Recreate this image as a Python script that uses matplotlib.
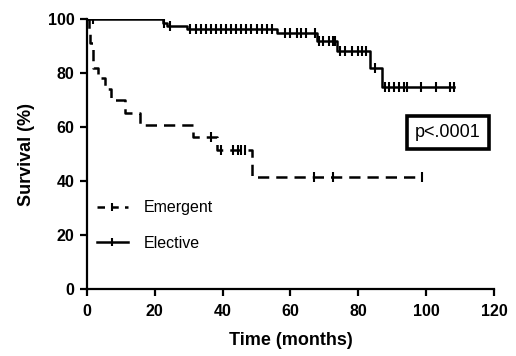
import matplotlib
matplotlib.use("Agg")
import matplotlib.pyplot as plt
from matplotlib.lines import Line2D
import numpy as np

plt.rcParams["font.family"] = ["Liberation Sans", "DejaVu Sans"]

# Kaplan-Meier steps (months, % surviving)
emerg_t = [0, 0.5, 1.0, 1.7, 3.2, 5.3, 7.2, 11.2, 15.7, 31.3, 38.4, 48.8]
emerg_s = [100, 95.5, 91, 82, 78, 74, 70, 65.2, 60.8, 56.3, 51.5, 41.5]
emerg_end = 98.8
emerg_cens = [36.6, 39.5, 43, 44.5, 45.5, 46.5, 67, 72.6, 98.8]

elect_t = [0, 22.3, 23.6, 29.5, 56.0, 67.8, 73.7, 83.4, 87.0]
elect_s = [100, 98.5, 97.4, 96.3, 94.7, 92.0, 88.1, 82.0, 75.0]
elect_end = 108.3
elect_cens = [1.7, 22.8, 24.5, 30.5, 32, 33.5, 35, 36.5, 38, 39.5, 41, 42.5,
              44, 45.5, 47, 48.5, 50, 51.5, 53, 54.5, 58.5, 60, 62, 63, 64.5,
              67.3, 68.5, 69.5, 71.5, 72.5, 73.2, 74.5, 76, 78, 80, 81, 82.3,
              85, 88, 89, 90.5, 92, 93.5, 94.3, 98.4, 103, 107, 108.3]

p_text = "p<.0001"


def surv_at(times, surv, when):
    idx = np.searchsorted(times, when, side="right") - 1
    return np.asarray(surv)[idx]


fig = plt.figure(figsize=(5.16, 3.56), dpi=100)
ax = fig.add_axes([0.1686, 0.1882, 0.7887, 0.7584])

lw = 1.8
for t, s, end, cens, ls in [
    (emerg_t, emerg_s, emerg_end, emerg_cens, (0, (4.5, 2.8))),
    (elect_t, elect_s, elect_end, elect_cens, "-"),
]:
    tt = list(t) + [end]
    ss = list(s) + [s[-1]]
    ax.step(tt, ss, where="post", color="black", lw=lw, linestyle=ls)
    ax.plot(cens, surv_at(t, s, cens), linestyle="none", marker="|",
            color="black", ms=6.5, mew=1.5)

ax.set_xlim(0, 120)
ax.set_ylim(0, 100)
ax.set_xticks(np.arange(0, 121, 20))
ax.set_yticks(np.arange(0, 101, 20))
for sp in ["top", "right"]:
    ax.spines[sp].set_visible(False)
for sp in ["left", "bottom"]:
    ax.spines[sp].set_linewidth(1.6)
ax.tick_params(direction="out", length=5, width=1.6, labelsize=11.5, pad=4)
ax.tick_params(axis="x", pad=6)
for lab in ax.get_xticklabels() + ax.get_yticklabels():
    lab.set_fontweight("bold")

ax.set_xlabel("Time (months)", fontsize=13, fontweight="bold", labelpad=9)
ax.set_ylabel("Survival (%)", fontsize=13, fontweight="bold", labelpad=9)

handles = [
    Line2D([], [], color="black", lw=lw, linestyle=(0, (3, 2.5)), marker="|",
           ms=6, mew=1.5),
    Line2D([], [], color="black", lw=lw, linestyle="-", marker="|",
           ms=6, mew=1.5),
]
ax.legend(handles, ["Emergent", "Elective"], loc="center left",
          bbox_to_anchor=(0.025, 0.235), frameon=False, fontsize=11.5,
          handlelength=1.9, handletextpad=1.0, labelspacing=1.3,
          borderpad=0, borderaxespad=0, numpoints=1)

ax.text(106.4, 58.1, p_text, ha="center", va="center", fontsize=13,
        bbox=dict(boxstyle="square,pad=0.45", fc="white", ec="black", lw=2.6))

fig.savefig("out.png", dpi=100)
